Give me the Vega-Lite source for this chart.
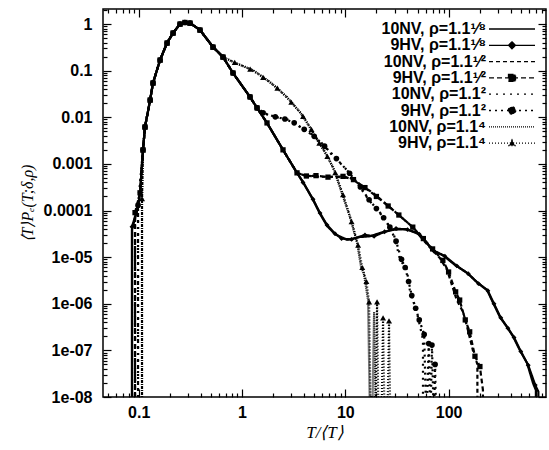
{
"$schema": "https://vega.github.io/schema/vega-lite/v6.json",
"width": 443, "height": 388,
"autosize": "none",
"padding": {"left": 103, "top": 9, "right": 3, "bottom": 53},
"background": "white",
"config": {
  "view": {"stroke": "black", "strokeWidth": 1.5},
  "font": "Liberation Sans",
  "axis": {"domain": false, "grid": false, "tickColor": "black", "tickWidth": 1.2, "labelColor": "black", "titleColor": "black", "labelFont": "Liberation Sans", "labelFontSize": 16, "labelFontWeight": "bold", "labelFlush": false, "labelOverlap": false, "labelBound": false}
},
"data": {"values": [
{"s":"a","i":0,"x":0.0861,"y":1e-8},{"s":"a","i":1,"x":0.0861,"y":3.9e-5},{"s":"a","i":2,"x":0.0985,"y":1.2e-4},{"s":"a","i":3,"x":0.103,"y":2.4e-4},{"s":"a","i":4,"x":0.110,"y":2.0e-3},{"s":"a","i":5,"x":0.115,"y":6.2e-3},{"s":"a","i":6,"x":0.129,"y":0.0235},{"s":"a","i":7,"x":0.1375,"y":0.0545},{"s":"a","i":8,"x":0.161,"y":0.169},{"s":"a","i":9,"x":0.188,"y":0.392},{"s":"a","i":10,"x":0.215,"y":0.642},{"s":"a","i":11,"x":0.251,"y":1.0},{"s":"a","i":12,"x":0.28,"y":1.08},{"s":"a","i":13,"x":0.314,"y":1.05},{"s":"a","i":14,"x":0.392,"y":0.744},{"s":"a","i":15,"x":0.524,"y":0.321},{"s":"a","i":16,"x":0.655,"y":0.196},{"s":"a","i":17,"x":0.818,"y":0.0891},{"s":"a","i":18,"x":1.195,"y":0.0273},{"s":"a","i":19,"x":1.397,"y":0.0159},{"s":"a","i":20,"x":1.746,"y":0.00756},{"s":"a","i":21,"x":2.494,"y":0.002},{"s":"a","i":22,"x":3.408,"y":0.000642},{"s":"a","i":23,"x":3.895,"y":0.000412},{"s":"a","i":24,"x":4.87,"y":0.000169},{"s":"a","i":25,"x":5.69,"y":0.000085},{"s":"a","i":26,"x":6.65,"y":0.000047},{"s":"a","i":27,"x":7.94,"y":0.000031},{"s":"a","i":28,"x":10.4,"y":0.0000235},{"s":"a","i":29,"x":13.9,"y":0.000027},{"s":"a","i":30,"x":17.3,"y":0.000028},{"s":"a","i":31,"x":21.7,"y":0.000033},{"s":"a","i":32,"x":29,"y":0.0000385},{"s":"a","i":33,"x":37.9,"y":0.00004},{"s":"a","i":34,"x":50.5,"y":0.000033},{"s":"a","i":35,"x":70.6,"y":0.000014},{"s":"a","i":36,"x":88.3,"y":0.000011},{"s":"a","i":37,"x":115,"y":0.0000068},{"s":"a","i":38,"x":151,"y":0.0000046},{"s":"a","i":39,"x":188,"y":0.0000029},{"s":"a","i":40,"x":235,"y":0.000002},{"s":"a","i":41,"x":269,"y":0.00000106},{"s":"a","i":42,"x":314,"y":5.2e-7},{"s":"a","i":43,"x":367,"y":3.2e-7},{"s":"a","i":44,"x":420,"y":2.0e-7},{"s":"a","i":45,"x":491,"y":1.0e-7},{"s":"a","i":46,"x":574,"y":5.4e-8},{"s":"a","i":47,"x":656,"y":2.0e-8},{"s":"a","i":48,"x":700,"y":1.4e-8},{"s":"a","i":49,"x":700,"y":1e-8},
{"s":"b","i":0,"x":0.0861,"y":1e-8},{"s":"b","i":1,"x":0.0861,"y":4.5e-5},{"s":"b","i":2,"x":0.0985,"y":1.2e-4},{"s":"b","i":3,"x":0.103,"y":2.4e-4},{"s":"b","i":4,"x":0.110,"y":2.0e-3},{"s":"b","i":5,"x":0.115,"y":6.2e-3},{"s":"b","i":6,"x":0.129,"y":0.0235},{"s":"b","i":7,"x":0.1375,"y":0.0545},{"s":"b","i":8,"x":0.161,"y":0.169},{"s":"b","i":9,"x":0.188,"y":0.392},{"s":"b","i":10,"x":0.215,"y":0.642},{"s":"b","i":11,"x":0.251,"y":1.0},{"s":"b","i":12,"x":0.28,"y":1.08},{"s":"b","i":13,"x":0.314,"y":1.05},{"s":"b","i":14,"x":0.392,"y":0.744},{"s":"b","i":15,"x":0.524,"y":0.321},{"s":"b","i":16,"x":0.655,"y":0.196},{"s":"b","i":17,"x":0.818,"y":0.0891},{"s":"b","i":18,"x":1.195,"y":0.0273},{"s":"b","i":19,"x":1.397,"y":0.0159},{"s":"b","i":20,"x":1.746,"y":0.00756},{"s":"b","i":21,"x":2.494,"y":0.002},{"s":"b","i":22,"x":3.408,"y":0.000642},{"s":"b","i":23,"x":3.895,"y":0.0004},{"s":"b","i":24,"x":4.87,"y":0.000175},{"s":"b","i":25,"x":5.69,"y":0.000088},{"s":"b","i":26,"x":6.65,"y":0.000049},{"s":"b","i":27,"x":7.94,"y":0.000032},{"s":"b","i":28,"x":9.2,"y":0.000025},{"s":"b","i":29,"x":11.5,"y":0.000024},{"s":"b","i":30,"x":15.5,"y":0.00003},{"s":"b","i":31,"x":19,"y":0.000028},{"s":"b","i":32,"x":24,"y":0.000035},{"s":"b","i":33,"x":31,"y":0.000041},{"s":"b","i":34,"x":40,"y":0.000039},{"s":"b","i":35,"x":52,"y":0.000031},{"s":"b","i":36,"x":72,"y":0.0000135},{"s":"b","i":37,"x":92,"y":0.0000105},{"s":"b","i":38,"x":120,"y":0.0000065},{"s":"b","i":39,"x":155,"y":0.0000044},{"s":"b","i":40,"x":195,"y":0.0000027},{"s":"b","i":41,"x":240,"y":0.0000019},{"s":"b","i":42,"x":275,"y":0.000001},{"s":"b","i":43,"x":320,"y":5.0e-7},{"s":"b","i":44,"x":375,"y":3.0e-7},{"s":"b","i":45,"x":430,"y":1.9e-7},{"s":"b","i":46,"x":500,"y":9.5e-8},{"s":"b","i":47,"x":590,"y":4.8e-8},{"s":"b","i":48,"x":690,"y":1.8e-8},{"s":"b","i":49,"x":740,"y":1.3e-8},{"s":"b","i":50,"x":740,"y":1e-8},
{"s":"c","i":0,"x":0.0921,"y":1e-8},{"s":"c","i":1,"x":0.0921,"y":8e-5},{"s":"c","i":2,"x":0.0985,"y":1.2e-4},{"s":"c","i":3,"x":0.103,"y":2.4e-4},{"s":"c","i":4,"x":0.110,"y":2.0e-3},{"s":"c","i":5,"x":0.115,"y":6.2e-3},{"s":"c","i":6,"x":0.129,"y":0.0235},{"s":"c","i":7,"x":0.1375,"y":0.0545},{"s":"c","i":8,"x":0.161,"y":0.169},{"s":"c","i":9,"x":0.188,"y":0.392},{"s":"c","i":10,"x":0.215,"y":0.642},{"s":"c","i":11,"x":0.251,"y":1.0},{"s":"c","i":12,"x":0.28,"y":1.08},{"s":"c","i":13,"x":0.314,"y":1.05},{"s":"c","i":14,"x":0.392,"y":0.744},{"s":"c","i":15,"x":0.524,"y":0.321},{"s":"c","i":16,"x":0.655,"y":0.196},{"s":"c","i":17,"x":0.818,"y":0.0891},{"s":"c","i":18,"x":1.195,"y":0.0273},{"s":"c","i":19,"x":1.397,"y":0.0159},{"s":"c","i":20,"x":1.746,"y":0.00756},{"s":"c","i":21,"x":2.494,"y":0.002},{"s":"c","i":22,"x":3.408,"y":0.000642},{"s":"c","i":23,"x":4.07,"y":0.00056},{"s":"c","i":24,"x":5.69,"y":0.00053},{"s":"c","i":25,"x":7.95,"y":0.00053},{"s":"c","i":26,"x":11.1,"y":0.0005},{"s":"c","i":27,"x":13.9,"y":0.00036},{"s":"c","i":28,"x":18.5,"y":0.00024},{"s":"c","i":29,"x":24.2,"y":0.000145},{"s":"c","i":30,"x":30.3,"y":0.000094},{"s":"c","i":31,"x":42.1,"y":0.00005},{"s":"c","i":32,"x":52.9,"y":0.000028},{"s":"c","i":33,"x":66.1,"y":0.000016},{"s":"c","i":34,"x":82.6,"y":0.0000095},{"s":"c","i":35,"x":96.5,"y":0.0000054},{"s":"c","i":36,"x":120,"y":0.0000012},{"s":"c","i":37,"x":138,"y":6.7e-7},{"s":"c","i":38,"x":151,"y":3.2e-7},{"s":"c","i":39,"x":172,"y":1.0e-7},{"s":"c","i":40,"x":190,"y":5e-8},{"s":"c","i":41,"x":190,"y":1e-8},
{"s":"d","i":0,"x":0.0921,"y":1e-8},{"s":"d","i":1,"x":0.0921,"y":9e-5},{"s":"d","i":2,"x":0.103,"y":2.4e-4},{"s":"d","i":3,"x":0.110,"y":2.0e-3},{"s":"d","i":4,"x":0.115,"y":6.2e-3},{"s":"d","i":5,"x":0.129,"y":0.0235},{"s":"d","i":6,"x":0.1375,"y":0.0545},{"s":"d","i":7,"x":0.161,"y":0.169},{"s":"d","i":8,"x":0.188,"y":0.392},{"s":"d","i":9,"x":0.215,"y":0.642},{"s":"d","i":10,"x":0.251,"y":1.0},{"s":"d","i":11,"x":0.28,"y":1.08},{"s":"d","i":12,"x":0.314,"y":1.05},{"s":"d","i":13,"x":0.392,"y":0.744},{"s":"d","i":14,"x":0.524,"y":0.321},{"s":"d","i":15,"x":0.655,"y":0.196},{"s":"d","i":16,"x":0.818,"y":0.0891},{"s":"d","i":17,"x":1.195,"y":0.0273},{"s":"d","i":18,"x":1.397,"y":0.0159},{"s":"d","i":19,"x":1.746,"y":0.00756},{"s":"d","i":20,"x":2.494,"y":0.002},{"s":"d","i":21,"x":3.408,"y":0.000642},{"s":"d","i":22,"x":4.2,"y":0.00055},{"s":"d","i":23,"x":5.2,"y":0.00056},{"s":"d","i":24,"x":6.8,"y":0.00052},{"s":"d","i":25,"x":9.5,"y":0.00054},{"s":"d","i":26,"x":12,"y":0.00046},{"s":"d","i":27,"x":15.5,"y":0.00031},{"s":"d","i":28,"x":20,"y":0.0002},{"s":"d","i":29,"x":26,"y":0.000125},{"s":"d","i":30,"x":33,"y":0.00008},{"s":"d","i":31,"x":45,"y":0.000044},{"s":"d","i":32,"x":57,"y":0.000025},{"s":"d","i":33,"x":70,"y":0.000015},{"s":"d","i":34,"x":88,"y":0.0000085},{"s":"d","i":35,"x":100,"y":0.0000048},{"s":"d","i":36,"x":117,"y":0.0000018},{"s":"d","i":37,"x":128,"y":0.0000012},{"s":"d","i":38,"x":145,"y":4.5e-7},{"s":"d","i":39,"x":160,"y":2.5e-7},{"s":"d","i":40,"x":180,"y":7.5e-8},{"s":"d","i":41,"x":201,"y":4.5e-8},{"s":"d","i":42,"x":215,"y":1.4e-8},{"s":"d","i":43,"x":215,"y":1e-8},
{"s":"e","i":0,"x":0.0985,"y":1e-8},{"s":"e","i":1,"x":0.0985,"y":1.2e-4},{"s":"e","i":2,"x":0.103,"y":2.4e-4},{"s":"e","i":3,"x":0.110,"y":2.0e-3},{"s":"e","i":4,"x":0.115,"y":6.2e-3},{"s":"e","i":5,"x":0.129,"y":0.0235},{"s":"e","i":6,"x":0.1375,"y":0.0545},{"s":"e","i":7,"x":0.161,"y":0.169},{"s":"e","i":8,"x":0.188,"y":0.392},{"s":"e","i":9,"x":0.215,"y":0.642},{"s":"e","i":10,"x":0.251,"y":1.0},{"s":"e","i":11,"x":0.28,"y":1.08},{"s":"e","i":12,"x":0.314,"y":1.05},{"s":"e","i":13,"x":0.392,"y":0.744},{"s":"e","i":14,"x":0.524,"y":0.321},{"s":"e","i":15,"x":0.655,"y":0.196},{"s":"e","i":16,"x":0.818,"y":0.0891},{"s":"e","i":17,"x":1.195,"y":0.0273},{"s":"e","i":18,"x":1.397,"y":0.0159},{"s":"e","i":19,"x":1.67,"y":0.0118},{"s":"e","i":20,"x":2.33,"y":0.0097},{"s":"e","i":21,"x":2.91,"y":0.0087},{"s":"e","i":22,"x":3.64,"y":0.0062},{"s":"e","i":23,"x":4.55,"y":0.0046},{"s":"e","i":24,"x":5.69,"y":0.0031},{"s":"e","i":25,"x":7.11,"y":0.00173},{"s":"e","i":26,"x":9.9,"y":0.00082},{"s":"e","i":27,"x":12.4,"y":0.00046},{"s":"e","i":28,"x":15.5,"y":0.00022},{"s":"e","i":29,"x":18.5,"y":0.00013},{"s":"e","i":30,"x":21.7,"y":0.00009},{"s":"e","i":31,"x":25.3,"y":0.000054},{"s":"e","i":32,"x":29,"y":0.000036},{"s":"e","i":33,"x":33.9,"y":0.0000088},{"s":"e","i":34,"x":39.4,"y":0.0000054},{"s":"e","i":35,"x":42.1,"y":0.000002},{"s":"e","i":36,"x":45.2,"y":0.0000012},{"s":"e","i":37,"x":50.5,"y":5.2e-7},{"s":"e","i":38,"x":56.5,"y":1.7e-7},{"s":"e","i":39,"x":56.5,"y":1e-8},
{"s":"f","i":0,"x":0.0985,"y":1e-8},{"s":"f","i":1,"x":0.0985,"y":1.3e-4},{"s":"f","i":2,"x":0.110,"y":2.0e-3},{"s":"f","i":3,"x":0.115,"y":6.2e-3},{"s":"f","i":4,"x":0.129,"y":0.0235},{"s":"f","i":5,"x":0.1375,"y":0.0545},{"s":"f","i":6,"x":0.161,"y":0.169},{"s":"f","i":7,"x":0.188,"y":0.392},{"s":"f","i":8,"x":0.215,"y":0.642},{"s":"f","i":9,"x":0.251,"y":1.0},{"s":"f","i":10,"x":0.28,"y":1.08},{"s":"f","i":11,"x":0.314,"y":1.05},{"s":"f","i":12,"x":0.392,"y":0.744},{"s":"f","i":13,"x":0.524,"y":0.321},{"s":"f","i":14,"x":0.655,"y":0.196},{"s":"f","i":15,"x":0.818,"y":0.0891},{"s":"f","i":16,"x":1.195,"y":0.0273},{"s":"f","i":17,"x":1.397,"y":0.0159},{"s":"f","i":18,"x":1.6,"y":0.0125},{"s":"f","i":19,"x":2.1,"y":0.0102},{"s":"f","i":20,"x":2.6,"y":0.0092},{"s":"f","i":21,"x":3.2,"y":0.0076},{"s":"f","i":22,"x":4.0,"y":0.0055},{"s":"f","i":23,"x":5.0,"y":0.0039},{"s":"f","i":24,"x":6.3,"y":0.0024},{"s":"f","i":25,"x":8.2,"y":0.0013},{"s":"f","i":26,"x":11,"y":0.00063},{"s":"f","i":27,"x":14,"y":0.00032},{"s":"f","i":28,"x":17,"y":0.00017},{"s":"f","i":29,"x":20,"y":0.00011},{"s":"f","i":30,"x":23.5,"y":0.00007},{"s":"f","i":31,"x":27,"y":0.000044},{"s":"f","i":32,"x":31,"y":0.000022},{"s":"f","i":33,"x":35,"y":0.000009},{"s":"f","i":34,"x":38,"y":0.000006},{"s":"f","i":35,"x":41,"y":0.000003},{"s":"f","i":36,"x":44,"y":0.0000015},{"s":"f","i":37,"x":48,"y":8e-7},{"s":"f","i":38,"x":52,"y":4.5e-7},{"s":"f","i":39,"x":58,"y":2.2e-7},{"s":"f","i":40,"x":60,"y":1e-8},{"s":"f","i":41,"x":62,"y":1e-8},{"s":"f","i":42,"x":64.2,"y":1.4e-7},{"s":"f","i":43,"x":66,"y":1e-8},{"s":"f","i":44,"x":67.5,"y":1e-8},{"s":"f","i":45,"x":69,"y":1.3e-7},{"s":"f","i":46,"x":71,"y":1e-8},{"s":"f","i":47,"x":73,"y":1e-8},{"s":"f","i":48,"x":74,"y":5e-8},{"s":"f","i":49,"x":75,"y":1e-8},
{"s":"g","i":0,"x":0.1076,"y":1e-8},{"s":"g","i":1,"x":0.1076,"y":1.5e-4},{"s":"g","i":2,"x":0.110,"y":2.0e-3},{"s":"g","i":3,"x":0.115,"y":6.2e-3},{"s":"g","i":4,"x":0.129,"y":0.0235},{"s":"g","i":5,"x":0.1375,"y":0.0545},{"s":"g","i":6,"x":0.161,"y":0.169},{"s":"g","i":7,"x":0.188,"y":0.392},{"s":"g","i":8,"x":0.215,"y":0.642},{"s":"g","i":9,"x":0.251,"y":1.0},{"s":"g","i":10,"x":0.28,"y":1.08},{"s":"g","i":11,"x":0.314,"y":1.05},{"s":"g","i":12,"x":0.392,"y":0.744},{"s":"g","i":13,"x":0.524,"y":0.321},{"s":"g","i":14,"x":0.655,"y":0.196},{"s":"g","i":15,"x":0.855,"y":0.146},{"s":"g","i":16,"x":1.278,"y":0.103},{"s":"g","i":17,"x":1.867,"y":0.057},{"s":"g","i":18,"x":2.727,"y":0.0273},{"s":"g","i":19,"x":3.64,"y":0.013},{"s":"g","i":20,"x":4.26,"y":0.0076},{"s":"g","i":21,"x":5.32,"y":0.00327},{"s":"g","i":22,"x":6.35,"y":0.00181},{"s":"g","i":23,"x":7.6,"y":0.00086},{"s":"g","i":24,"x":8.9,"y":0.000306},{"s":"g","i":25,"x":11.1,"y":0.000073},{"s":"g","i":26,"x":13,"y":0.0000203},{"s":"g","i":27,"x":14.2,"y":0.0000062},{"s":"g","i":28,"x":15.2,"y":0.0000042},{"s":"g","i":29,"x":16.6,"y":0.0000012},{"s":"g","i":30,"x":17.2,"y":1e-8},{"s":"g","i":31,"x":18.4,"y":1e-8},{"s":"g","i":32,"x":19,"y":6.7e-7},{"s":"g","i":33,"x":19.6,"y":1e-8},
{"s":"h","i":0,"x":0.1076,"y":1e-8},{"s":"h","i":1,"x":0.1076,"y":1.8e-4},{"s":"h","i":2,"x":0.110,"y":2.0e-3},{"s":"h","i":3,"x":0.115,"y":6.2e-3},{"s":"h","i":4,"x":0.129,"y":0.0235},{"s":"h","i":5,"x":0.1375,"y":0.0545},{"s":"h","i":6,"x":0.161,"y":0.169},{"s":"h","i":7,"x":0.188,"y":0.392},{"s":"h","i":8,"x":0.215,"y":0.642},{"s":"h","i":9,"x":0.251,"y":1.0},{"s":"h","i":10,"x":0.28,"y":1.08},{"s":"h","i":11,"x":0.314,"y":1.05},{"s":"h","i":12,"x":0.392,"y":0.744},{"s":"h","i":13,"x":0.524,"y":0.321},{"s":"h","i":14,"x":0.655,"y":0.196},{"s":"h","i":15,"x":0.85,"y":0.15},{"s":"h","i":16,"x":1.2,"y":0.108},{"s":"h","i":17,"x":1.6,"y":0.072},{"s":"h","i":18,"x":2.2,"y":0.042},{"s":"h","i":19,"x":3.0,"y":0.021},{"s":"h","i":20,"x":3.9,"y":0.0105},{"s":"h","i":21,"x":4.7,"y":0.0055},{"s":"h","i":22,"x":5.6,"y":0.0028},{"s":"h","i":23,"x":6.7,"y":0.00145},{"s":"h","i":24,"x":8,"y":0.00065},{"s":"h","i":25,"x":9.5,"y":0.00022},{"s":"h","i":26,"x":11.5,"y":0.000058},{"s":"h","i":27,"x":13.3,"y":0.000018},{"s":"h","i":28,"x":14.6,"y":0.000006},{"s":"h","i":29,"x":16,"y":0.000003},{"s":"h","i":30,"x":17,"y":0.0000011},{"s":"h","i":31,"x":17.5,"y":1e-8},{"s":"h","i":32,"x":19.8,"y":1e-8},{"s":"h","i":33,"x":20.3,"y":0.0000011},{"s":"h","i":34,"x":20.8,"y":1e-8},{"s":"h","i":35,"x":22.6,"y":1e-8},{"s":"h","i":36,"x":23.2,"y":5e-7},{"s":"h","i":37,"x":23.8,"y":1e-8},{"s":"h","i":38,"x":25.8,"y":1e-8},{"s":"h","i":39,"x":26.5,"y":4.3e-7},{"s":"h","i":40,"x":27.1,"y":1e-8}
]},
"layer": [
  {
    "mark": {"type": "line", "strokeWidth": 2.2, "color": "black", "clip": true},
    "encoding": {
      "x": {"field": "x", "type": "quantitative",
        "scale": {"type": "log", "domain": [0.0451, 877], "nice": false},
        "axis": {"orient": "bottom",
          "values": [0.05,0.06,0.07,0.08,0.09,0.1,0.2,0.3,0.4,0.5,0.6,0.7,0.8,0.9,1,2,3,4,5,6,7,8,9,10,20,30,40,50,60,70,80,90,100,200,300,400,500,600,700,800],
          "tickSize": {"condition": {"test": "abs(log(datum.value)/LN10 - round(log(datum.value)/LN10)) < 1e-6", "value": -8}, "value": -4},
          "labelPadding": 15,
          "labelExpr": "abs(log(datum.value)/LN10 - round(log(datum.value)/LN10)) < 1e-6 ? format(datum.value, '~g') : ''",
          "title": "T/⟨T⟩", "titleFont": "Liberation Serif", "titleFontStyle": "italic", "titleFontWeight": "normal", "titleFontSize": 17, "titlePadding": 0}},
      "y": {"field": "y", "type": "quantitative",
        "scale": {"type": "log", "domain": [1e-8, 2.1], "nice": false},
        "axis": {"orient": "left",
          "values": [1e-8,2e-8,3e-8,4e-8,5e-8,6e-8,7e-8,8e-8,9e-8,1e-7,2e-7,3e-7,4e-7,5e-7,6e-7,7e-7,8e-7,9e-7,1e-6,2e-6,3e-6,4e-6,5e-6,6e-6,7e-6,8e-6,9e-6,1e-5,2e-5,3e-5,4e-5,5e-5,6e-5,7e-5,8e-5,9e-5,0.0001,0.0002,0.0003,0.0004,0.0005,0.0006,0.0007,0.0008,0.0009,0.001,0.002,0.003,0.004,0.005,0.006,0.007,0.008,0.009,0.01,0.02,0.03,0.04,0.05,0.06,0.07,0.08,0.09,0.1,0.2,0.3,0.4,0.5,0.6,0.7,0.8,0.9,1,2],
          "tickSize": {"condition": {"test": "abs(log(datum.value)/LN10 - round(log(datum.value)/LN10)) < 1e-6", "value": -8}, "value": -4},
          "labelPadding": 19,
          "labelExpr": "abs(log(datum.value)/LN10 - round(log(datum.value)/LN10)) < 1e-6 ? (datum.value >= 0.0001 ? format(datum.value, '~g') : '1e-0' + round(-log(datum.value)/LN10)) : ''",
          "title": "⟨T⟩Pₑ(T;δ,ρ)", "titleFont": "Liberation Serif", "titleFontStyle": "italic", "titleFontWeight": "normal", "titleFontSize": 16, "titlePadding": 8}},
      "strokeDash": {"field": "s", "type": "nominal",
        "scale": {"domain": ["a","b","c","d","e","f","g","h"], "range": [[1,0],[1,0],[4,3],[5,3],[2,5],[2,4],[1,1],[1,2]]},
        "legend": {"orient": "none", "legendX": 401, "legendY": 12, "title": null, "padding": 0,
          "symbolType": "stroke", "symbolSize": 100, "symbolStrokeWidth": 1.3, "symbolStrokeColor": "black",
          "labelAlign": "right", "labelOffset": -34, "labelFontSize": 16, "labelFontWeight": "bold", "labelFont": "Liberation Sans", "labelColor": "black", "labelLimit": 300, "rowPadding": 0.3,
          "labelExpr": "['10NV, ρ=1.1¹⁄⁸','9HV, ρ=1.1¹⁄⁸','10NV, ρ=1.1¹⁄²','9HV, ρ=1.1¹⁄²','10NV, ρ=1.1²','9HV, ρ=1.1²','10NV, ρ=1.1⁴','9HV, ρ=1.1⁴'][indexof(['a','b','c','d','e','f','g','h'], datum.value)]",
          "encode": {"symbols": {"update": {
            "shape": {"signal": "datum.value === 'b' ? 'M-4.6,0H4.6M0,-0.7L0.7,0L0,0.7L-0.7,0Z' : datum.value === 'd' ? 'M-4.6,0H4.6M-0.7,-0.7H0.7V0.7H-0.7Z' : datum.value === 'f' ? 'M-4.6,0H4.6M0.75,0A0.75,0.75 0 1,1 -0.75,0A0.75,0.75 0 1,1 0.75,0Z' : datum.value === 'h' ? 'M-4.6,0H4.6M0,-0.65L0.6,0.5L-0.6,0.5Z' : 'M-4.6,0H4.6'"},
            "fill": {"value": "black"}, "stroke": {"value": "black"}, "strokeWidth": {"value": 1.3}}}}}},
      "order": {"field": "i", "type": "quantitative"}
    }
  },
  {
    "transform": [{"filter": "datum.y > 1.5e-8 && indexof(['b','d','f','h'], datum.s) >= 0"}],
    "mark": {"type": "point", "filled": true, "color": "black", "opacity": 1, "clip": true},
    "encoding": {
      "x": {"field": "x", "type": "quantitative",
        "scale": {"type": "log", "domain": [0.0451, 877], "nice": false},
        "axis": {"orient": "top", "labels": false, "title": null,
          "values": [0.05,0.06,0.07,0.08,0.09,0.1,0.2,0.3,0.4,0.5,0.6,0.7,0.8,0.9,1,2,3,4,5,6,7,8,9,10,20,30,40,50,60,70,80,90,100,200,300,400,500,600,700,800],
          "tickSize": {"condition": {"test": "abs(log(datum.value)/LN10 - round(log(datum.value)/LN10)) < 1e-6", "value": -8}, "value": -4}}},
      "y": {"field": "y", "type": "quantitative",
        "scale": {"type": "log", "domain": [1e-8, 2.1], "nice": false},
        "axis": {"orient": "right", "labels": false, "title": null,
          "values": [1e-8,2e-8,3e-8,4e-8,5e-8,6e-8,7e-8,8e-8,9e-8,1e-7,2e-7,3e-7,4e-7,5e-7,6e-7,7e-7,8e-7,9e-7,1e-6,2e-6,3e-6,4e-6,5e-6,6e-6,7e-6,8e-6,9e-6,1e-5,2e-5,3e-5,4e-5,5e-5,6e-5,7e-5,8e-5,9e-5,0.0001,0.0002,0.0003,0.0004,0.0005,0.0006,0.0007,0.0008,0.0009,0.001,0.002,0.003,0.004,0.005,0.006,0.007,0.008,0.009,0.01,0.02,0.03,0.04,0.05,0.06,0.07,0.08,0.09,0.1,0.2,0.3,0.4,0.5,0.6,0.7,0.8,0.9,1,2],
          "tickSize": {"condition": {"test": "abs(log(datum.value)/LN10 - round(log(datum.value)/LN10)) < 1e-6", "value": -8}, "value": -4}}},
      "shape": {"field": "s", "type": "nominal", "scale": {"domain": ["b","d","f","h"], "range": ["diamond","square","circle","triangle-up"]}, "legend": null},
      "size": {"field": "s", "type": "ordinal", "scale": {"domain": ["b","d","f","h"], "range": [24,36,40,22]}, "legend": null}
    }
  }
],
"resolve": {"axis": {"x": "independent", "y": "independent"}}
}
